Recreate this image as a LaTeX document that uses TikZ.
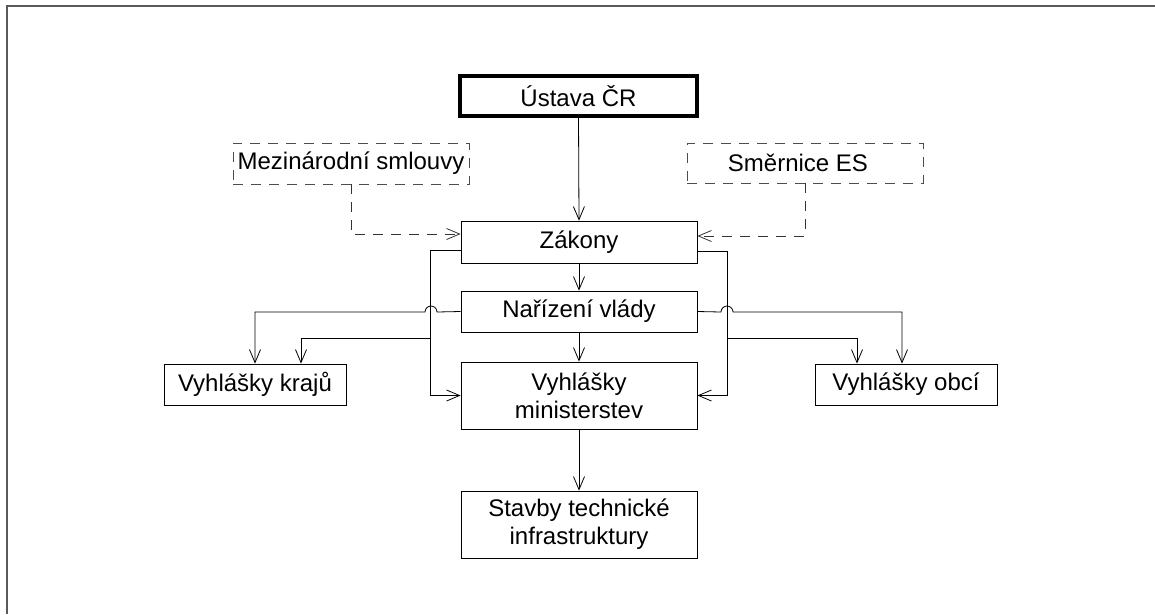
\documentclass[tikz,border=0pt]{standalone}
\usepackage{fontspec}
\setmainfont{Liberation Sans}
\usetikzlibrary{arrows.meta}

\begin{document}
\begin{tikzpicture}[x=1pt, y=-1pt, line width=0.8pt,
    box/.style={draw, rectangle, inner sep=0pt, align=center,
      font=\fontsize{24}{28}\selectfont},
    dbox/.style={box, draw=black!70, dash pattern=on 10pt off 8pt},
    arr/.style={-{Straight Barb[length=13pt, width=11pt]}},
    darr/.style={arr, dash pattern=on 10pt off 8pt}]
      \useasboundingbox (0, 0) rectangle (1155, 614);
      % Frame
      \draw[black!65, line width=1.5pt] (7, 614) -- (7, 6) -- (1155, 6);

      % Nodes
      \node[box, line width=4pt, minimum width=237pt, minimum height=40pt] (ustava) at (578.5, 96) {Ústava ČR};
      \node[dbox, minimum width=236pt, minimum height=41pt] (mezin) at (351, 163.5) {Mezinárodní smlouvy};
      \node[dbox, minimum width=236pt, minimum height=40pt] (smernice) at (805, 163) {\hspace*{-14pt}Směrnice ES};
      \node[box, minimum width=236pt, minimum height=42pt] (zakony) at (579, 242) {Zákony};
      \node[box, minimum width=236pt, minimum height=41pt] (narizeni) at (579, 311.5) {Nařízení vlády};
      \node[box, minimum width=236pt, minimum height=67pt] (vmin) at (579, 395.5) {Vyhlášky\\ministerstev};
      \node[box, minimum width=236pt, minimum height=67pt] (stavby) at (579, 524.5) {Stavby technické\\infrastruktury};
      \node[box, minimum width=182pt, minimum height=41pt] (kraje) at (255, 384.5) {Vyhlášky krajů};
      \node[box, minimum width=182pt, minimum height=41pt] (obce) at (906, 384.5) {Vyhlášky obcí};
      \coordinate (lbus) at (431, 338);
      \coordinate (rbus) at (727, 338);

      % Main chain
      \draw[arr] (ustava.south) -- (zakony.north);
      \draw[arr] (zakony.south) -- (narizeni.north);
      \draw[arr] (narizeni.south) -- (vmin.north);
      \draw[arr] (vmin.south) -- (stavby.north);

      % Dashed inputs
      \draw[darr, black!80] (mezin.south) |- ([yshift=8pt]zakony.west);
      \draw[darr, black!80] (smernice.south) |- ([yshift=6pt]zakony.east);

      % Zakony to ministerstva and regions
      \draw[arr] ([yshift=-8pt]zakony.west) -- ++(-30, 0) |- (vmin.west);
      \draw[arr] ([yshift=-9pt]zakony.east) -- ++(30, 0) |- (vmin.east);
      \draw[arr] (lbus) -| ([xshift=46pt]kraje.north);
      \draw[arr] (rbus) -| ([xshift=-49pt]obce.north);

      % Narizeni to regions, jumping over the buses
      \draw[arr] (narizeni.west) -- (437, 312) arc[start angle=0, end angle=180, radius=6pt] -| (kraje.north);
      \draw[arr] (narizeni.east) -- (721, 312) arc[start angle=180, end angle=0, radius=6pt] -| ([xshift=-4pt]obce.north);
    \end{tikzpicture}
\end{document}
